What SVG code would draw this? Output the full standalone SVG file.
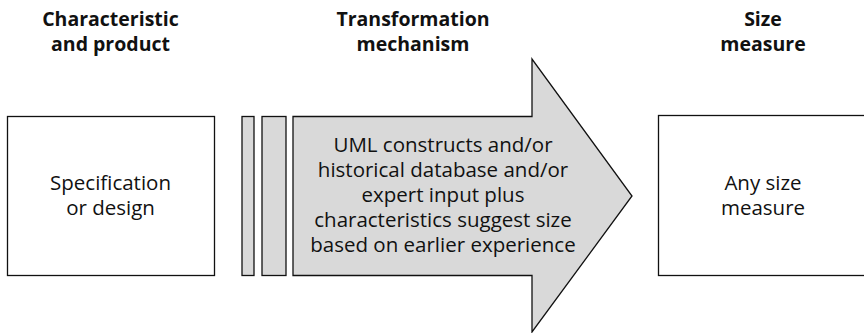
<svg xmlns="http://www.w3.org/2000/svg" width="864" height="333" viewBox="0 0 864 333">
<style>
.t{font-family:"Open Sans","Noto Sans","DejaVu Sans",sans-serif;font-size:20.5px;fill:#111;text-anchor:middle}
.h{font-weight:bold;font-size:19.5px}
.box{fill:#fff;stroke:#111;stroke-width:1.3}
.g{fill:#d9d9d9;stroke:#111;stroke-width:1.3}
</style>
<rect width="864" height="333" fill="#fff"/>
<g id="headings">
<text class="t h" x="110.5" y="25.5">Characteristic</text>
<text class="t h" x="110.5" y="51">and product</text>
<text class="t h" x="413" y="25.5">Transformation</text>
<text class="t h" x="413" y="51">mechanism</text>
<text class="t h" x="763" y="25.5">Size</text>
<text class="t h" x="763" y="51">measure</text>
</g>
<g id="spec">
<rect class="box" x="7.5" y="116.5" width="207" height="159"/>
<text class="t" x="110.5" y="190">Specification</text>
<text class="t" x="110.5" y="214.5">or design</text>
</g>
<g id="connectors">
<rect class="g" x="242" y="116.5" width="12" height="159"/>
<rect class="g" x="262" y="116.5" width="24" height="159"/>
</g>
<g id="transform">
<polygon class="g" points="293,116.5 532,116.5 532,59 632,196 532,332 532,275.5 293,275.5"/>
<text class="t" x="443" y="152">UML constructs and/or</text>
<text class="t" x="443" y="177">historical database and/or</text>
<text class="t" x="443" y="202">expert input plus</text>
<text class="t" x="443" y="227">characteristics suggest size</text>
<text class="t" x="443" y="252">based on earlier experience</text>
</g>
<g id="size">
<rect class="box" x="658.5" y="115.5" width="210" height="160"/>
<text class="t" x="763" y="190">Any size</text>
<text class="t" x="763" y="215">measure</text>
</g>
</svg>
